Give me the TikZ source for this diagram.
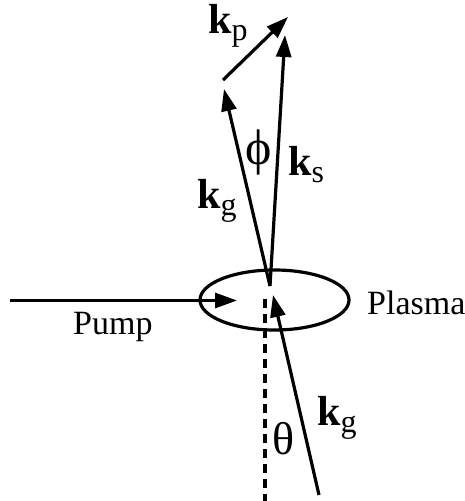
\documentclass[tikz,border=0pt]{standalone}
\usepackage{fontspec}
\setmainfont{Liberation Serif}
\usetikzlibrary{arrows.meta}
\newcommand{\kvec}[1]{{\fontsize{42}{42}\selectfont\bfseries k}{\fontsize{32}{32}\selectfont\raisebox{-7pt}{#1}}}
\begin{document}
\begin{tikzpicture}[x=1pt,y=-1pt,
  vec/.style={line width=3.2pt,-{Triangle[length=22pt,width=15pt]}},
  lbl/.style={inner sep=0pt,anchor=base west},
  txt/.style={inner sep=0pt,anchor=base west,font=\fontsize{34}{40}\selectfont}]
\useasboundingbox (0,0) rectangle (464,501);
% coordinates
\coordinate (O) at (270,286);
\coordinate (gtip) at (224,89);
\coordinate (stip) at (285,35);
\coordinate (ptail) at (223,80);
\coordinate (ptip) at (288,17);
\coordinate (pumpstart) at (10,300.5);
\coordinate (pumptip) at (237,300.5);
\coordinate (lowtail) at (319,495);
\coordinate (lowtip) at (273,295);
\coordinate (dtop) at (265,299);
\coordinate (dbot) at (265,501);
% plasma ellipse
\draw[line width=3.2pt] (274.5,300) ellipse [x radius=74.5, y radius=30];
% dashed normal
\draw[line width=3.2pt,dash pattern=on 9pt off 6pt] (dtop) -- (dbot);
% vectors
\draw[vec] (O) -- (gtip);
\draw[vec] (O) -- (stip);
\draw[vec] (ptail) -- (ptip);
\draw[vec] (pumpstart) -- (pumptip);
\draw[vec] (lowtail) -- (lowtip);
% labels
\node[lbl] (kp) at (208,33) {\kvec{p}};
\node[lbl] (ks) at (288,175) {\kvec{s}};
\node[lbl] (kgu) at (197,208) {\kvec{g}};
\node[lbl] (kgl) at (317,425) {\kvec{g}};
\node[inner sep=0pt,font=\fontsize{50}{50}\selectfont] (phi) at (259,152) {ϕ};
\node[inner sep=0pt,font=\fontsize{46}{46}\selectfont] (theta) at (284,439) {θ};
\node[txt] (pump) at (73,334) {Pump};
\node[txt] (plasma) at (367,314) {Plasma};
\end{tikzpicture}
\end{document}
